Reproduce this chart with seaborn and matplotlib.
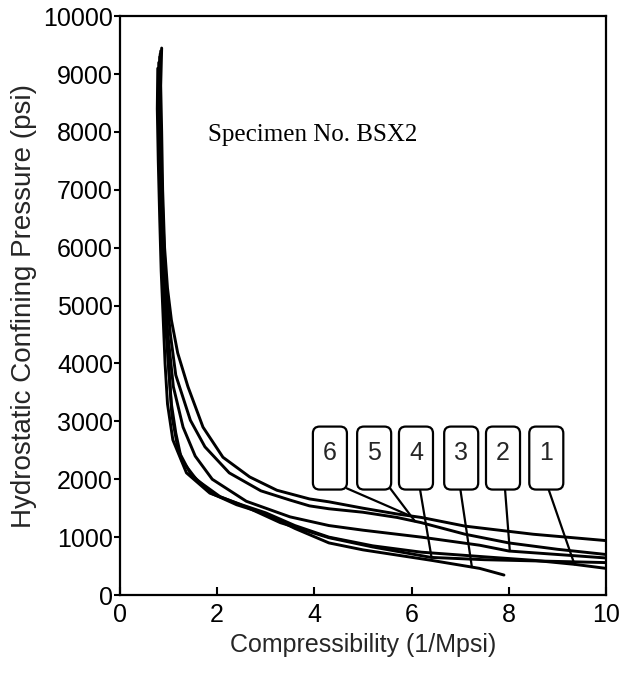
import numpy as np
import pandas as pd
import matplotlib
matplotlib.use("Agg")
import matplotlib.pyplot as plt
from matplotlib.patches import FancyBboxPatch
import seaborn as sns

# ---- data ----
c6_x = [0.86, 0.84, 0.86, 0.88, 0.92, 0.98, 1.06, 1.19, 1.40, 1.71, 2.12, 2.67, 3.23, 3.9, 4.3, 5.0, 5.7, 6.2, 7.1, 8.5, 10.0]
c6_y = [9450, 8800, 8000, 7000, 6000, 5300, 4750, 4180, 3600, 2900, 2380, 2040, 1810, 1660, 1610, 1500, 1400, 1340, 1190, 1050, 940]

c5_x = [0.84, 0.82, 0.84, 0.87, 0.91, 0.96, 1.04, 1.15, 1.45, 1.75, 2.25, 2.9, 3.5, 3.9, 4.3, 5.0, 5.7, 6.2, 7.1, 8.0, 9.0, 10.0]
c5_y = [9400, 8700, 7900, 6900, 6000, 5200, 4500, 3800, 3020, 2560, 2110, 1800, 1640, 1540, 1490, 1430, 1340, 1250, 1050, 900, 790, 700]

c2_x = [0.82, 0.80, 0.82, 0.85, 0.88, 0.93, 1.0, 1.1, 1.3, 1.55, 1.9, 2.6, 3.5, 4.3, 5.0, 6.2, 7.4, 8.0, 9.0, 10.0]
c2_y = [9300, 8600, 7800, 6800, 5800, 5000, 4400, 3600, 2900, 2400, 2000, 1620, 1350, 1200, 1120, 1000, 860, 760, 700, 640]

c4_x = [0.80, 0.79, 0.81, 0.84, 0.87, 0.92, 0.98, 1.06, 1.15, 1.27, 1.58, 2.06, 2.6, 3.3, 4.3, 5.2, 6.4, 7.5, 8.5, 10.0]
c4_y = [9200, 8500, 7600, 6600, 5700, 4900, 4200, 3300, 2800, 2330, 1990, 1700, 1520, 1250, 990, 830, 650, 610, 590, 560]

c1_x = [0.78, 0.77, 0.79, 0.82, 0.85, 0.89, 0.93, 0.98, 1.09, 1.37, 1.85, 2.5, 3.0, 3.6, 4.3, 5.2, 6.2, 7.5, 8.5, 9.35, 10.0]
c1_y = [9100, 8400, 7500, 6500, 5600, 4800, 4000, 3300, 2680, 2110, 1760, 1560, 1420, 1200, 1000, 850, 740, 660, 600, 530, 460]

c3_x = [0.83, 0.81, 0.83, 0.86, 0.9, 0.95, 1.0, 1.07, 1.2, 1.45, 1.9, 2.4, 3.0, 3.6, 4.3, 5.0, 6.4, 7.4, 7.9]
c3_y = [9350, 8650, 7850, 6850, 5850, 5050, 4000, 3100, 2500, 2100, 1750, 1560, 1400, 1150, 900, 780, 600, 460, 345]

curve_names = ["1", "2", "3", "4", "5", "6"]
curve_xs = [c1_x, c2_x, c3_x, c4_x, c5_x, c6_x]
curve_ys = [c1_y, c2_y, c3_y, c4_y, c5_y, c6_y]

# label boxes: centre x positions, and where the leader lines start / end
label_x = [8.77, 7.88, 7.02, 6.09, 5.23, 4.32]
label_y = 2366
leader_start_x = [8.81, 7.92, 7.0, 6.17, 5.56, 4.67]
leader_end_x = [9.35, 8.02, 7.24, 6.41, 6.07, 5.97]

x_ticks = [0, 2, 4, 6, 8, 10]
y_ticks = list(range(0, 10001, 1000))

# ---- build long table ----
rows = []
for name, xs, ys in zip(curve_names, curve_xs, curve_ys):
    for i, (xv, yv) in enumerate(zip(xs, ys)):
        rows.append({"curve": name, "order": i, "x": xv, "y": yv})
df = pd.DataFrame(rows)

sns.set_theme(style="ticks")
plt.rcParams["font.family"] = ["Liberation Sans", "DejaVu Sans"]

fig = plt.figure(figsize=(6.21, 6.75), dpi=100)
ax = fig.add_axes([0.193, 0.1185, 0.783, 0.8575])

sns.lineplot(data=df, x="x", y="y", units="curve", estimator=None, sort=False,
             color="black", linewidth=2.1, ax=ax, legend=False)

ax.set_xlim(0, 10)
ax.set_ylim(0, 10000)
ax.set_xticks(x_ticks)
ax.set_yticks(y_ticks)
ax.set_xticklabels([str(t) for t in x_ticks], fontsize=18)
ax.set_yticklabels([str(t) for t in y_ticks], fontsize=18)
ax.tick_params(axis="x", direction="in", length=6, width=1.5, pad=6, colors="black")
ax.tick_params(axis="y", direction="out", length=4, width=1.5, pad=1, colors="black")
for s in ax.spines.values():
    s.set_visible(True)
    s.set_linewidth(1.6)
    s.set_color("black")

ax.set_xlabel("Compressibility (1/Mpsi)", fontsize=18, labelpad=4)
ax.set_ylabel("Hydrostatic Confining Pressure (psi)", fontsize=20, labelpad=4)

ax.text(1.81, 7950, "Specimen No. BSX2", family=["Liberation Serif", "DejaVu Serif"],
        fontsize=18, ha="left", va="center", color="black")

# label boxes and leader lines
bw, bh = 0.70, 1088
aspect = 1000 * 48.6 / 57.9
for name, lx, sx, ex, xs, ys in zip(curve_names, label_x, leader_start_x, leader_end_x, curve_xs, curve_ys):
    ey = float(np.interp(ex, xs[-10:], ys[-10:]))
    ax.plot([sx, ex], [label_y - bh / 2 + 20, ey], color="black", linewidth=1.6)
    box = FancyBboxPatch((lx - bw / 2, label_y - bh / 2), bw, bh,
                         boxstyle="round,pad=0,rounding_size=0.14",
                         mutation_aspect=aspect, facecolor="white",
                         edgecolor="black", linewidth=1.6, zorder=5)
    ax.add_patch(box)
    ax.text(lx, label_y + 80, name, fontsize=18, ha="center", va="center", zorder=6)

fig.savefig("out.png", dpi=100)
